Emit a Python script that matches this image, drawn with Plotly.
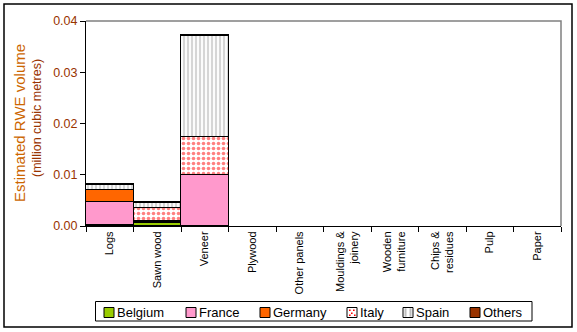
import plotly.graph_objects as go

# Product categories (x axis)
categories = ["Logs", "Sawn wood", "Veneer", "Plywood", "Other panels",
              "Mouldings &<br>joinery", "Wooden<br>furniture", "Chips &<br>residues",
              "Pulp", "Paper"]

# Estimated RWE volume by country (million cubic metres); None = no volume
belgium = [0.0001, 0.0006, None, None, None, None, None, None, None, None]
france = [0.0045, 0.0002, 0.0100, None, None, None, None, None, None, None]
germany = [0.0024, 0.0001, None, None, None, None, None, None, None, None]
italy = [None, 0.0027, 0.0074, None, None, None, None, None, None, None]
spain = [0.0010, 0.0009, 0.0197, None, None, None, None, None, None, None]
others = [0.0001, 0.0002, 0.0001, None, None, None, None, None, None, None]

country_names = ["Belgium", "France", "Germany", "Italy", "Spain", "Others"]
y_ticks = [0.0, 0.01, 0.02, 0.03, 0.04]

FONT = "Arial, Liberation Sans, sans-serif"

# Plot-area geometry in pixels (used to place the frame, title and legend)
W, H = 577, 332
L, R, T, B = 86, 561, 21, 226
PW, PH = R - L, B - T


def px(x):
    return (x - L) / PW


def py(y):
    return (B - y) / PH


italy_pattern = dict(shape=".", fgcolor="#FF0000", bgcolor="white",
                     size=5, solidity=0.4, fillmode="overlay")
spain_pattern = dict(shape="|", fgcolor="#ABABAB", bgcolor="white",
                     size=4, solidity=0.55, fillmode="overlay")

markers = [
    dict(color="#99CC00"),
    dict(color="#FF99CC"),
    dict(color="#FF6600"),
    dict(color="white", pattern=italy_pattern),
    dict(color="white", pattern=spain_pattern),
    dict(color="#993300"),
]
values = [belgium, france, germany, italy, spain, others]

fig = go.Figure()
for name, vals, marker in zip(country_names, values, markers):
    marker = dict(marker)
    marker["line"] = dict(color="black", width=1.5)
    fig.add_trace(go.Bar(name=name, x=categories, y=vals, marker=marker))

fig.update_layout(
    width=W, height=H,
    barmode="stack", bargap=0,
    paper_bgcolor="white", plot_bgcolor="white",
    margin=dict(l=L, r=W - R, t=T, b=H - B, autoexpand=False),
    font=dict(family=FONT, size=11, color="black"),
    showlegend=False,
)

fig.update_xaxes(
    type="category", tickangle=-90, showline=True, linecolor="black", linewidth=1,
    ticks="outside", ticklen=5, tickcolor="black", tickson="boundaries",
    showgrid=False, automargin=False,
    tickfont=dict(family=FONT, size=11, color="black"),
)
fig.update_yaxes(
    range=[0, 0.04], tickvals=y_ticks, tickformat=".2f",
    showline=True, linecolor="black", linewidth=1, automargin=False,
    ticks="outside", ticklen=5, tickcolor="black", showgrid=False, zeroline=False,
    tickfont=dict(family=FONT, size=12.5, color="#993300"),
)

shapes = []
# Grey plot-area border on top and right
shapes.append(dict(type="path", xref="paper", yref="paper",
                   path="M 0 1 L 1 1 L 1 0", line=dict(color="#808080", width=1.5)))
# Outer chart frame
shapes.append(dict(type="rect", xref="paper", yref="paper",
                   x0=px(4), x1=px(572), y0=py(327), y1=py(4),
                   line=dict(color="black", width=1.5), layer="below"))

# Legend box
shapes.append(dict(type="rect", xref="paper", yref="paper",
                   x0=px(95.5), x1=px(532), y0=py(321), y1=py(301.5),
                   line=dict(color="black", width=1), fillcolor="white"))

swatch_x = [104, 186, 260, 347, 403, 470]
text_x = [116, 198, 272, 359, 415, 482]
sw_top, sw_bot = 307.5, 317.5
solid_fill = ["#99CC00", "#FF99CC", "#FF6600", "white", "white", "#993300"]

annotations = []
for i, name in enumerate(country_names):
    x0 = swatch_x[i]
    shapes.append(dict(type="rect", xref="paper", yref="paper",
                       x0=px(x0), x1=px(x0 + 10), y0=py(sw_bot), y1=py(sw_top),
                       line=dict(color="black", width=1), fillcolor=solid_fill[i]))
    if name == "Italy":
        for dx, dy in [(2, 2), (6, 2), (4, 5), (2, 7), (7, 7)]:
            shapes.append(dict(type="rect", xref="paper", yref="paper",
                               x0=px(x0 + dx), x1=px(x0 + dx + 1.6),
                               y0=py(sw_top + dy + 1.6), y1=py(sw_top + dy),
                               line=dict(width=0), fillcolor="#FF0000"))
    if name == "Spain":
        for dx in [1.5, 6.5]:
            shapes.append(dict(type="rect", xref="paper", yref="paper",
                               x0=px(x0 + dx), x1=px(x0 + dx + 2),
                               y0=py(sw_bot - 0.8), y1=py(sw_top + 0.8),
                               line=dict(width=0), fillcolor="#BEBEBE"))
    annotations.append(dict(xref="paper", yref="paper", x=px(text_x[i]), y=py(312),
                            xanchor="left", yanchor="middle", text=name, showarrow=False,
                            borderpad=0, font=dict(family=FONT, size=13, color="black")))

# Y axis title (two lines)
annotations.append(dict(xref="paper", yref="paper", x=px(19), y=py(123),
                        xanchor="center", yanchor="middle",
                        text="Estimated RWE volume", textangle=-90, showarrow=False,
                        font=dict(family=FONT, size=15, color="#CC6600")))
annotations.append(dict(xref="paper", yref="paper", x=px(37), y=py(118),
                        xanchor="center", yanchor="middle",
                        text="(million cubic metres)", textangle=-90, showarrow=False,
                        font=dict(family=FONT, size=12.5, color="#993300")))

fig.update_layout(shapes=shapes, annotations=annotations)

fig.write_html("out.html")
